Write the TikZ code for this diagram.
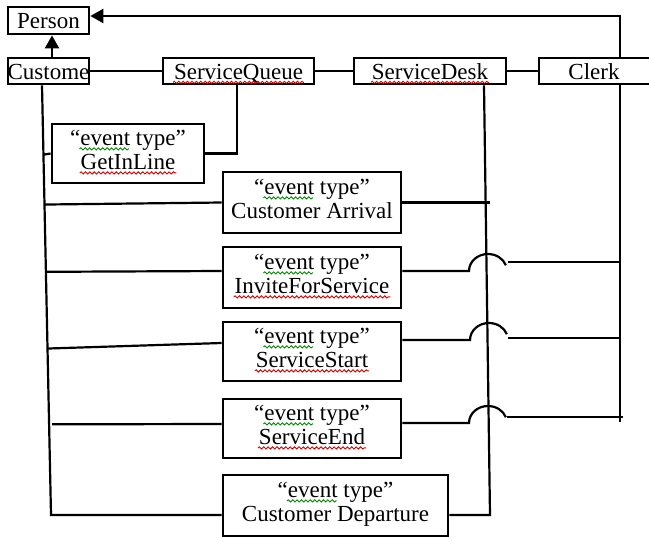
\documentclass[tikz,border=0pt]{standalone}
\usepackage{fontspec}
\setmainfont{Liberation Serif}
\usetikzlibrary{arrows.meta,calc,decorations.pathmorphing}
\newlength\wq
\newlength\wev
\begin{document}
\settowidth\wq{\fontsize{11.5}{12}\selectfont “}%
\settowidth\wev{\fontsize{11.5}{12}\selectfont event}%
\begin{tikzpicture}[x=0.5pt,y=-0.5pt,line width=1pt,
  box/.style={draw,line width=1.4pt,inner sep=0pt},
  txt/.style={inner sep=0pt,anchor=base,font=\fontsize{11.5}{12}\selectfont},
  conn/.style={line width=1.1pt},
  wave/.style={draw=#1,line width=0.45pt,decorate,
    decoration={snake,amplitude=0.55pt,segment length=2.2pt}},
  tip/.style={-{Triangle[length=6.5pt,width=7pt]}}]
\useasboundingbox (0,0) rectangle (649,537);
% class boxes
\node[box,minimum width=40.5pt,minimum height=13.5pt] (person) at (48.5,20.5) {};
\node[box,minimum width=40.5pt,minimum height=13pt] (cust) at (48.5,71) {};
\node[box,minimum width=75.5pt,minimum height=13pt] (sq) at (238.5,71) {};
\node[box,minimum width=76pt,minimum height=13pt] (sd) at (430,71) {};
\node[box,minimum width=56pt,minimum height=13pt] (clerk) at (595,71) {};
\node[txt] (person-t) at ($(person.center)+(0,8)$) {Person};
\node[txt] (cust-t) at ($(cust.center)+(0,8)$) {Custome};
\node[txt] (sq-t) at ($(sq.center)+(0,8)$) {ServiceQueue};
\node[txt] (sd-t) at ($(sd.center)+(0,8)$) {ServiceDesk};
\node[txt] (clerk-t) at ($(clerk.center)+(-1,8)$) {Clerk};
% event boxes
\node[box,minimum width=76pt,minimum height=29.5pt] (gil) at (128,153.5) {};
\node[box,minimum width=89pt,minimum height=30.5pt] (ca) at (312,202.5) {};
\node[box,minimum width=89pt,minimum height=30.5pt] (ifs) at (312,277.5) {};
\node[box,minimum width=89pt,minimum height=29.5pt] (ss) at (312,351.5) {};
\node[box,minimum width=89pt,minimum height=29.5pt] (se) at (312,428.5) {};
\node[box,minimum width=112.5pt,minimum height=30.5pt] (dep) at (335.5,505.5) {};
\foreach \n/\t in {gil/GetInLine,ca/Customer Arrival,ifs/InviteForService,
    ss/ServiceStart,se/ServiceEnd,dep/Customer Departure}{
  \node[txt] (\n-a) at ($(\n.center)+(0,-8)$) {“event type”};
  \node[txt] (\n-b) at ($(\n.center)+(0,16)$) {\t};
  \draw[wave=green!55!black] ([xshift=\the\wq,yshift=-1.7pt]\n-a.base west)
    -- ([xshift=\the\wq+\the\wev,yshift=-1.7pt]\n-a.base west);
}
% red spell-check waves
\foreach \n in {sq-t,sd-t,gil-b,ifs-b,ss-b,se-b}{
  \draw[wave=red!85!black] ([yshift=-1.7pt]\n.base west) -- ([yshift=-1.7pt]\n.base east);
}
% lifeline end points
\coordinate (ctop) at ($(cust.south)+(-6.5,0)$);
\coordinate (cbot) at (51,515);
\coordinate (sdtop) at ($(sd.south)+(54,0)$);
\coordinate (sdbot) at (490,515);
\coordinate (cktop) at ($(clerk.south)+(25,0)$);
\coordinate (ckbot) at (620,422);
% inheritance arrows
\draw[conn,tip] ($(cust.north)+(3.5,0)$) -- ($(person.south)+(3.5,0)$);
\draw[conn,tip] ($(clerk.north)+(25,0)$) |- ($(person.east)+(0,-4.5)$);
% associations between class boxes
\draw[conn] (cust.east) -- (sq.west);
\draw[conn] (sq.east) -- (sd.west);
\draw[conn] (sd.east) -- (clerk.west);
% lifelines
\draw[conn] (ctop) -- (cbot) -- ($(dep.west)+(0,9.5)$);
\draw[conn] ($(dep.east)+(0,9.5)$) -- (sdbot) -- (sdtop);
\draw[conn] (cktop) -- (ckbot);
% GetInLine
\draw[conn] ($(ctop)!0.1613!(cbot)$) -- (gil.west);
\draw[conn] (gil.east) -| ($(sq.south)+(-1.5,0)$);
% Customer Arrival
\draw[conn] ($(ctop)!0.2773!(cbot)$) -- (ca.west);
\draw[conn] (ca.east) -- (ca.east -| sdbot);
% InviteForService
\draw[conn] ($(ctop)!0.4339!(cbot)$) -- ($(ifs.west)+(0,-6.5)$);
\draw[conn] ($(ifs.east)+(0,-6.5)$) -- (469,271) arc[start angle=180,end angle=340,x radius=19,y radius=17];
\draw[conn] (508,262) -- (cktop |- 508,262);
% ServiceStart
\draw[conn] ($(ctop)!0.6125!(cbot)$) -- ($(ss.west)+(0,-8.5)$);
\draw[conn] ($(ss.east)+(0,-11.5)$) -- (470,340) arc[start angle=180,end angle=340,x radius=19,y radius=17];
\draw[conn] (508,338) -- (cktop |- 508,338);
% ServiceEnd
\draw[conn] ($(ctop)!0.7889!(cbot)+(3,0)$) -- ($(se.west)+(0,-4.5)$);
\draw[conn] ($(se.east)+(0,-5.5)$) -- (469,423) arc[start angle=180,end angle=340,x radius=19,y radius=17];
\draw[conn] (507,417) -- (623,417);
\end{tikzpicture}
\end{document}
